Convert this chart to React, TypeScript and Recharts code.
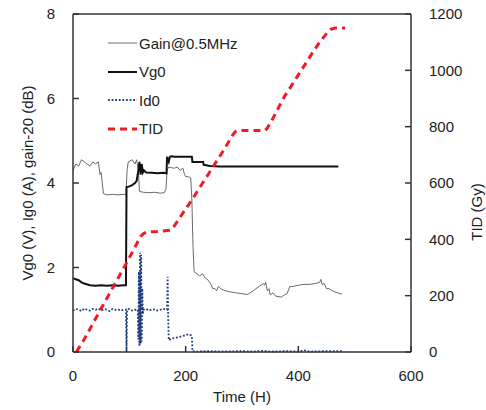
import React from 'react';
import { ComposedChart, Line, XAxis, YAxis, ReferenceLine } from 'recharts';

// time axis (hours)
const timeTicks = [0, 200, 400, 600];
const leftTicks = [0, 2, 4, 6, 8];
const rightTicks = [0, 200, 400, 600, 800, 1000, 1200];

// Gain@0.5MHz (gain-20, dB)
const gainT = [0, 5, 10, 15, 20, 25, 30, 35, 40, 45, 48, 50, 54, 60, 70, 80, 90, 94, 96, 98, 105, 110, 113, 116, 118, 125, 135, 145, 155, 162, 165, 167, 170, 175, 180, 185, 190, 195, 198, 200, 205, 209, 211, 213, 215, 220, 225, 230, 235, 240, 245, 248, 252, 255, 258, 262, 270, 280, 290, 300, 310, 320, 330, 338, 340, 342, 345, 348, 350, 355, 360, 370, 375, 380, 385, 390, 400, 410, 420, 430, 438, 440, 442, 446, 450, 455, 460, 465, 470, 477];
const gainV = [4.3, 4.45, 4.4, 4.55, 4.5, 4.45, 4.4, 4.5, 4.45, 4.5, 4.2, 4.25, 3.75, 3.72, 3.73, 3.72, 3.73, 3.72, 4.3, 4.5, 4.55, 4.45, 4.55, 4.3, 3.8, 3.78, 3.77, 3.78, 3.76, 3.77, 3.85, 4.3, 4.38, 4.36, 4.35, 4.38, 4.3, 4.35, 4.2, 4.15, 4.15, 4.12, 3.6, 2.5, 1.9, 1.85, 1.8, 1.85, 1.75, 1.7, 1.6, 1.5, 1.5, 1.45, 1.55, 1.5, 1.45, 1.42, 1.4, 1.38, 1.36, 1.45, 1.55, 1.62, 1.58, 1.65, 1.45, 1.5, 1.35, 1.4, 1.32, 1.3, 1.35, 1.38, 1.55, 1.55, 1.58, 1.6, 1.6, 1.62, 1.65, 1.72, 1.6, 1.62, 1.5, 1.5, 1.45, 1.42, 1.4, 1.37];

// Vg0 (V)
const vgT = [0, 5, 10, 15, 20, 30, 40, 50, 60, 70, 80, 90, 94, 95, 100, 105, 110, 113, 116, 118, 120, 122, 124, 126, 130, 140, 150, 160, 166, 167, 170, 172, 175, 180, 190, 200, 211, 212, 225, 231, 232, 243, 260, 300, 350, 400, 471];
const vgV = [1.75, 1.72, 1.7, 1.65, 1.62, 1.58, 1.57, 1.58, 1.57, 1.58, 1.57, 1.58, 1.58, 3.9, 3.92, 3.95, 4.0, 4.05, 4.3, 4.5, 4.2, 4.45, 4.25, 4.3, 4.25, 4.24, 4.23, 4.24, 4.23, 4.62, 4.5, 4.62, 4.63, 4.62, 4.62, 4.62, 4.62, 4.5, 4.5, 4.5, 4.43, 4.4, 4.39, 4.39, 4.39, 4.39, 4.39];

// Id0 (A)
const idT = [0, 5, 10, 15, 20, 25, 30, 35, 40, 45, 50, 55, 60, 65, 70, 75, 80, 85, 90, 94, 95, 96, 100, 105, 110, 115, 116, 117, 118, 119, 120, 121, 122, 123, 124, 125, 130, 135, 140, 145, 150, 155, 160, 165, 167, 168, 169, 170, 175, 180, 190, 200, 205, 209, 211, 212, 220, 240, 260, 300, 320, 340, 350, 380, 400, 410, 420, 450, 480];
const idV = [0.98, 1.02, 1.0, 0.97, 1.03, 1.0, 0.98, 1.02, 1.0, 1.03, 0.98, 1.01, 1.0, 0.97, 1.02, 1.0, 1.01, 0.98, 1.0, 1.0, 0, 1.0, 1.02, 0.98, 1.0, 1.0, 0.3, 1.9, 0.15, 2.35, 0.2, 2.3, 0.25, 1.5, 0.9, 1.0, 1.02, 0.98, 1.0, 1.01, 0.98, 1.0, 1.02, 1.0, 1.0, 1.78, 0.8, 0.28, 0.32, 0.33, 0.36, 0.4, 0.42, 0.4, 0.38, 0.02, 0.01, 0.02, 0.01, 0.02, 0.01, 0.03, 0.01, 0.02, 0.01, 0.04, 0.01, 0.02, 0.02];

// TID (Gy), right axis
const tidT = [6, 20, 40, 60, 80, 100, 110, 115, 120, 125, 130, 140, 150, 160, 172, 180, 190, 200, 210, 220, 230, 240, 250, 260, 270, 278, 284, 288, 292, 300, 320, 341, 345, 355, 365, 375, 385, 395, 405, 415, 425, 435, 445, 452, 458, 465, 483];
const tidV = [0, 45, 118, 190, 262, 335, 372, 392, 410, 420, 425, 427, 428, 430, 432, 448, 478, 508, 537, 568, 600, 630, 662, 693, 725, 752, 772, 782, 786, 786, 786, 786, 795, 830, 868, 906, 937, 968, 1000, 1030, 1062, 1092, 1118, 1135, 1146, 1150, 1150];

const zip = (ts: number[], vs: number[]) => ts.map((t, i) => ({ t, v: vs[i] }));

const FONT = '"Liberation Sans", Arial, sans-serif';
const AXIS = '#333333';

const legendItems = [
    { name: 'Gain@0.5MHz', color: '#6a6a6a', width: 1, dash: undefined },
    { name: 'Vg0', color: '#111111', width: 2, dash: undefined },
    { name: 'Id0', color: '#1f3d7a', width: 1.8, dash: '1.8 1.8' },
    { name: 'TID', color: '#ee1c25', width: 3, dash: '7 5' },
];

const ChartLegend = () => (
    <div style={{ position: 'absolute', left: 108, top: 29, fontFamily: FONT, fontSize: 15, color: '#222' }}>
        {legendItems.map((it) => (
            <div key={it.name} style={{ display: 'flex', alignItems: 'center', height: 28.5 }}>
                <svg width={30} height={6} style={{ marginRight: 1 }}>
                    <line x1={0} y1={3} x2={29} y2={3} stroke={it.color} strokeWidth={it.width} strokeDasharray={it.dash} />
                </svg>
                {it.name}
            </div>
        ))}
    </div>
);

const App = () => {
    return (
        <div style={{ position: 'absolute', left: 0, top: 0, width: 486, height: 410, background: '#fff' }}>
            <ComposedChart width={486} height={410} margin={{ top: 14, right: 0, left: 0, bottom: 0 }}>
                <XAxis
                    type="number"
                    dataKey="t"
                    domain={[0, 600]}
                    ticks={timeTicks}
                    height={58}
                    tickSize={-6}
                    tickMargin={24}
                    stroke={AXIS}
                    strokeWidth={1.5}
                    tick={{ fontSize: 15, fill: '#222', fontFamily: FONT }}
                    allowDuplicatedCategory={false}
                    label={{
                        content: () => (
                            <text x={242} y={402} textAnchor="middle" fontSize={15} fill="#222" fontFamily={FONT}>Time (H)</text>
                        ),
                    }}
                />
                <YAxis
                    yAxisId="left"
                    domain={[0, 8]}
                    ticks={leftTicks}
                    width={73}
                    tickSize={-6}
                    tickMargin={24}
                    stroke={AXIS}
                    strokeWidth={1.5}
                    tick={{ fontSize: 15, fill: '#222', fontFamily: FONT }}
                    label={{
                        content: () => (
                            <text x={27} y={183} transform="rotate(-90,27,183)" textAnchor="middle" dominantBaseline="central" fontSize={15} fill="#222" fontFamily={FONT}>
                                Vg0 (V), Ig0 (A), gain-20 (dB)
                            </text>
                        ),
                    }}
                />
                <YAxis
                    yAxisId="right"
                    orientation="right"
                    domain={[0, 1200]}
                    ticks={rightTicks}
                    width={75}
                    tickSize={-6}
                    tickMargin={24}
                    stroke={AXIS}
                    strokeWidth={1.5}
                    tick={{ fontSize: 15, fill: '#222', fontFamily: FONT }}
                    label={{
                        content: () => (
                            <text x={476} y={212} transform="rotate(-90,476,212)" textAnchor="middle" dominantBaseline="central" fontSize={15} fill="#222" fontFamily={FONT}>
                                TID (Gy)
                            </text>
                        ),
                    }}
                />
                {/* top frame of the plot box */}
                <ReferenceLine yAxisId="left" y={8} stroke={AXIS} strokeWidth={1.5} />
                <Line
                    yAxisId="left"
                    data={zip(gainT, gainV)}
                    dataKey="v"
                    name="Gain@0.5MHz"
                    type="linear"
                    stroke="#6a6a6a"
                    strokeWidth={1}
                    dot={false}
                    isAnimationActive={false}
                />
                <Line
                    yAxisId="left"
                    data={zip(vgT, vgV)}
                    dataKey="v"
                    name="Vg0"
                    type="linear"
                    stroke="#111111"
                    strokeWidth={2}
                    dot={false}
                    isAnimationActive={false}
                />
                <Line
                    yAxisId="left"
                    data={zip(idT, idV)}
                    dataKey="v"
                    name="Id0"
                    type="linear"
                    stroke="#1f3d7a"
                    strokeWidth={1.8}
                    strokeDasharray="1.8 1.8"
                    dot={false}
                    isAnimationActive={false}
                />
                <Line
                    yAxisId="right"
                    data={zip(tidT, tidV)}
                    dataKey="v"
                    name="TID"
                    type="linear"
                    stroke="#ee1c25"
                    strokeWidth={3}
                    strokeDasharray="7 5"
                    dot={false}
                    isAnimationActive={false}
                />
            </ComposedChart>
            <ChartLegend />
        </div>
    );
};

export default App;
